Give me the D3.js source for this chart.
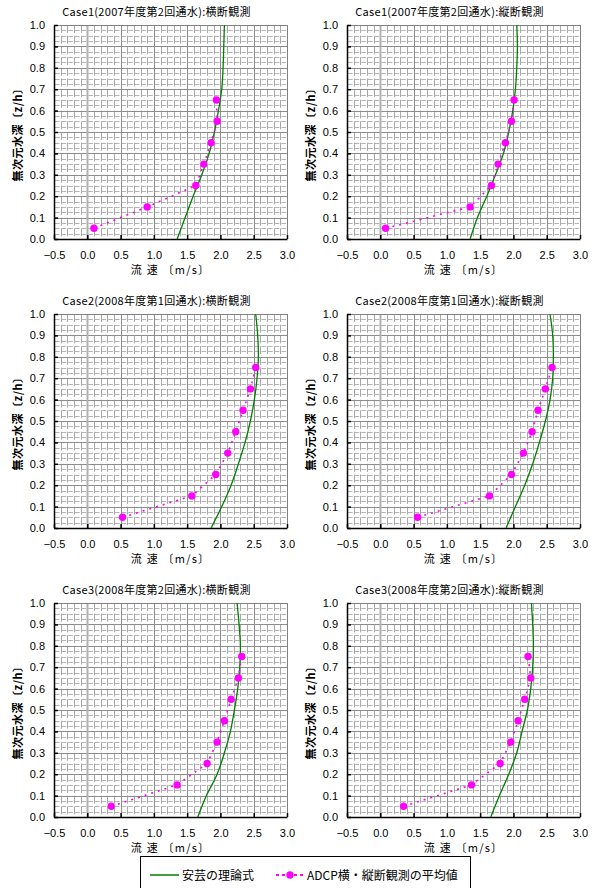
<!DOCTYPE html>
<html>
<head>
<meta charset="utf-8">
<script src="https://cdn.jsdelivr.net/npm/d3@7.9.0/dist/d3.min.js"></script>
<style>
  body { margin: 0; background: #fff; }
  svg { display: block; }
  .tick-label { font-family: "Liberation Sans", Arial, sans-serif; font-size: 11px; fill: #000; }
  .jp { font-family: "Noto Sans CJK JP", sans-serif; fill: #000; }
</style>
</head>
<body>
<div id="chart"></div>
<script>
// panel titles (row-major: left = 横断, right = 縦断)
const titles = [
  'Case1(2007年度第2回通水):横断観測',
  'Case1(2007年度第2回通水):縦断観測',
  'Case2(2008年度第1回通水):横断観測',
  'Case2(2008年度第1回通水):縦断観測',
  'Case3(2008年度第2回通水):横断観測',
  'Case3(2008年度第2回通水):縦断観測',
];

// depth levels of the theory curve (安芸の理論式)
const zTheory = [0, 0.1, 0.2, 0.3, 0.4, 0.5, 0.6, 0.7, 0.8, 0.9, 1.0];
const vTheory = [
  [1.35, 1.47, 1.59, 1.72, 1.83, 1.91, 1.97, 2.02, 2.04, 2.05, 2.06],
  [1.35, 1.46, 1.60, 1.73, 1.85, 1.93, 1.99, 2.03, 2.05, 2.06, 2.05],
  [1.86, 2.02, 2.16, 2.27, 2.37, 2.45, 2.51, 2.55, 2.57, 2.56, 2.53],
  [1.89, 2.03, 2.17, 2.29, 2.39, 2.48, 2.55, 2.59, 2.60, 2.59, 2.55],
  [1.66, 1.79, 1.95, 2.06, 2.15, 2.21, 2.26, 2.29, 2.30, 2.28, 2.25],
  [1.66, 1.79, 1.93, 2.05, 2.13, 2.21, 2.26, 2.29, 2.30, 2.29, 2.27],
];

// ADCP mean values
const zObsCase1 = [0.05, 0.15, 0.25, 0.35, 0.45, 0.55, 0.65];
const zObsCase23 = [0.05, 0.15, 0.25, 0.35, 0.45, 0.55, 0.65, 0.75];
const zObs = [zObsCase1, zObsCase1, zObsCase23, zObsCase23, zObsCase23, zObsCase23];
const vObs = [
  [0.10, 0.90, 1.63, 1.75, 1.86, 1.95, 1.94],
  [0.08, 1.35, 1.67, 1.77, 1.88, 1.97, 2.01],
  [0.53, 1.57, 1.93, 2.11, 2.23, 2.34, 2.45, 2.53],
  [0.56, 1.64, 1.97, 2.15, 2.28, 2.37, 2.48, 2.58],
  [0.36, 1.35, 1.80, 1.95, 2.06, 2.16, 2.27, 2.32],
  [0.35, 1.37, 1.80, 1.96, 2.07, 2.17, 2.26, 2.22],
];

const xTicks = [-0.5, 0.0, 0.5, 1.0, 1.5, 2.0, 2.5, 3.0];
const yTicks = [0, 0.1, 0.2, 0.3, 0.4, 0.5, 0.6, 0.7, 0.8, 0.9, 1.0];
const legendItems = ['安芸の理論式', 'ADCP横・縦断観測の平均値'];

const width = 598, height = 888;
const colLeft = [54, 347];
const plotW = 233;
const rowTop = [25, 314, 603];
const plotH = 214;
const green = '#008000', pink = '#ff00ff';

const svg = d3.select('#chart').append('svg')
  .attr('width', width).attr('height', height);

titles.forEach((title, i) => {
  const col = i % 2, row = Math.floor(i / 2);
  const left = colLeft[col], top = rowTop[row];

  const x = d3.scaleLinear().domain([-0.5, 3.0]).range([left, left + plotW]);
  const y = d3.scaleLinear().domain([0, 1]).range([top + plotH, top]);

  const g = svg.append('g');

  // minor dashed grid (gives the fine texture of the original)
  const minorY = d3.range(0, 1.0001, 0.025).filter(v => Math.abs(v * 10 - Math.round(v * 10)) > 1e-6);
  g.append('g').selectAll('line').data(minorY).join('line')
    .attr('x1', left).attr('x2', left + plotW)
    .attr('y1', d => Math.round(y(d)) + 0.5).attr('y2', d => Math.round(y(d)) + 0.5)
    .attr('stroke', '#b4b4b4').attr('stroke-dasharray', '4.6,2.06')
    .attr('stroke-dashoffset', -1);
  const minorX = d3.range(-0.5, 3.0001, 0.1).filter(v => Math.abs(v * 2 - Math.round(v * 2)) > 1e-6);
  g.append('g').selectAll('line').data(minorX).join('line')
    .attr('x1', d => Math.round(x(d)) + 0.5).attr('x2', d => Math.round(x(d)) + 0.5)
    .attr('y1', top).attr('y2', top + plotH)
    .attr('stroke', '#a8a8a8').attr('stroke-dasharray', '8,2.7');

  // major grid
  g.append('g').selectAll('line').data(yTicks).join('line')
    .attr('x1', left).attr('x2', left + plotW)
    .attr('y1', d => Math.round(y(d)) + 0.5).attr('y2', d => Math.round(y(d)) + 0.5)
    .attr('stroke', '#8c8c8c');
  g.append('g').selectAll('line').data(xTicks).join('line')
    .attr('x1', d => Math.round(x(d)) + 0.5).attr('x2', d => Math.round(x(d)) + 0.5)
    .attr('y1', top).attr('y2', top + plotH)
    .attr('stroke', d => d === 0 ? '#b0b0b0' : '#8c8c8c')
    .attr('stroke-width', d => d === 0 ? 2 : 1);

  // top / right border
  g.append('path')
    .attr('d', `M${left},${top + 0.5}H${left + plotW + 0.5}V${top + plotH}`)
    .attr('fill', 'none').attr('stroke', '#808080');

  // axes (ticks inside)
  const yAxis = g.append('g')
    .attr('transform', `translate(${left},0)`)
    .call(d3.axisLeft(y).tickValues(yTicks).tickSizeInner(-4).tickSizeOuter(0).tickPadding(9)
      .tickFormat(d3.format('.1f')));
  const xAxis = g.append('g')
    .attr('transform', `translate(0,${top + plotH})`)
    .call(d3.axisBottom(x).tickValues(xTicks).tickSizeInner(-4).tickSizeOuter(0).tickPadding(12)
      .tickFormat(d => d3.format('.1f')(d).replace('-', '\u2212')));
  [yAxis, xAxis].forEach(a => {
    a.select('.domain').attr('stroke', '#000').attr('stroke-width', 1.5);
    a.selectAll('.tick line').attr('stroke', '#000').attr('stroke-width', 1.5);
    a.selectAll('.tick text').attr('class', 'tick-label').attr('font-family', null).attr('font-size', null);
  });

  // theory curve
  const theory = zTheory.map((z, k) => [vTheory[i][k], z]);
  g.append('path')
    .datum(theory)
    .attr('d', d3.line().x(d => x(d[0])).y(d => y(d[1])).curve(d3.curveCatmullRom))
    .attr('fill', 'none').attr('stroke', green).attr('stroke-width', 1.3);

  // ADCP mean
  const obs = zObs[i].map((z, k) => [vObs[i][k], z]);
  g.append('path')
    .datum(obs)
    .attr('d', d3.line().x(d => x(d[0])).y(d => y(d[1])))
    .attr('fill', 'none').attr('stroke', pink).attr('stroke-width', 1.6)
    .attr('stroke-dasharray', '2,5');
  g.append('g').selectAll('circle').data(obs).join('circle')
    .attr('cx', d => x(d[0])).attr('cy', d => y(d[1])).attr('r', 3.7)
    .attr('fill', pink);

  // title & axis titles
  g.append('text').attr('class', 'jp')
    .attr('x', left + plotW / 2 - 14).attr('y', top - 9)
    .attr('text-anchor', 'middle').attr('font-size', 11).attr('letter-spacing', 0.3)
    .text(title);
  g.append('text').attr('class', 'jp')
    .attr('x', left + plotW / 2).attr('y', top + plotH + 35)
    .attr('text-anchor', 'middle').attr('font-size', 11).attr('letter-spacing', 1.2)
    .text('流 速 〔m/s〕');
  g.append('text').attr('class', 'jp')
    .attr('transform', `translate(${left - 32},${top + plotH / 2}) rotate(-90)`)
    .attr('text-anchor', 'middle').attr('font-size', 11).attr('font-weight', 'bold')
    .attr('letter-spacing', 0.5)
    .text('無次元水深〔z/h〕');
});

// legend
const lg = svg.append('g');
lg.append('rect').attr('x', 140.5).attr('y', 856.5).attr('width', 330).attr('height', 40)
  .attr('fill', '#fff').attr('stroke', '#000');
lg.append('line').attr('x1', 150).attr('x2', 179).attr('y1', 875).attr('y2', 875)
  .attr('stroke', green).attr('stroke-width', 1.5);
lg.append('text').attr('class', 'jp').attr('x', 182).attr('y', 879.5).attr('font-size', 12)
  .text(legendItems[0]);
lg.append('line').attr('x1', 276).attr('x2', 304).attr('y1', 875).attr('y2', 875)
  .attr('stroke', pink).attr('stroke-width', 2).attr('stroke-dasharray', '3,3');
lg.append('circle').attr('cx', 290).attr('cy', 875).attr('r', 3.7).attr('fill', pink);
lg.append('text').attr('class', 'jp').attr('x', 307).attr('y', 879.5).attr('font-size', 12)
  .text(legendItems[1]);
</script>
</body>
</html>
